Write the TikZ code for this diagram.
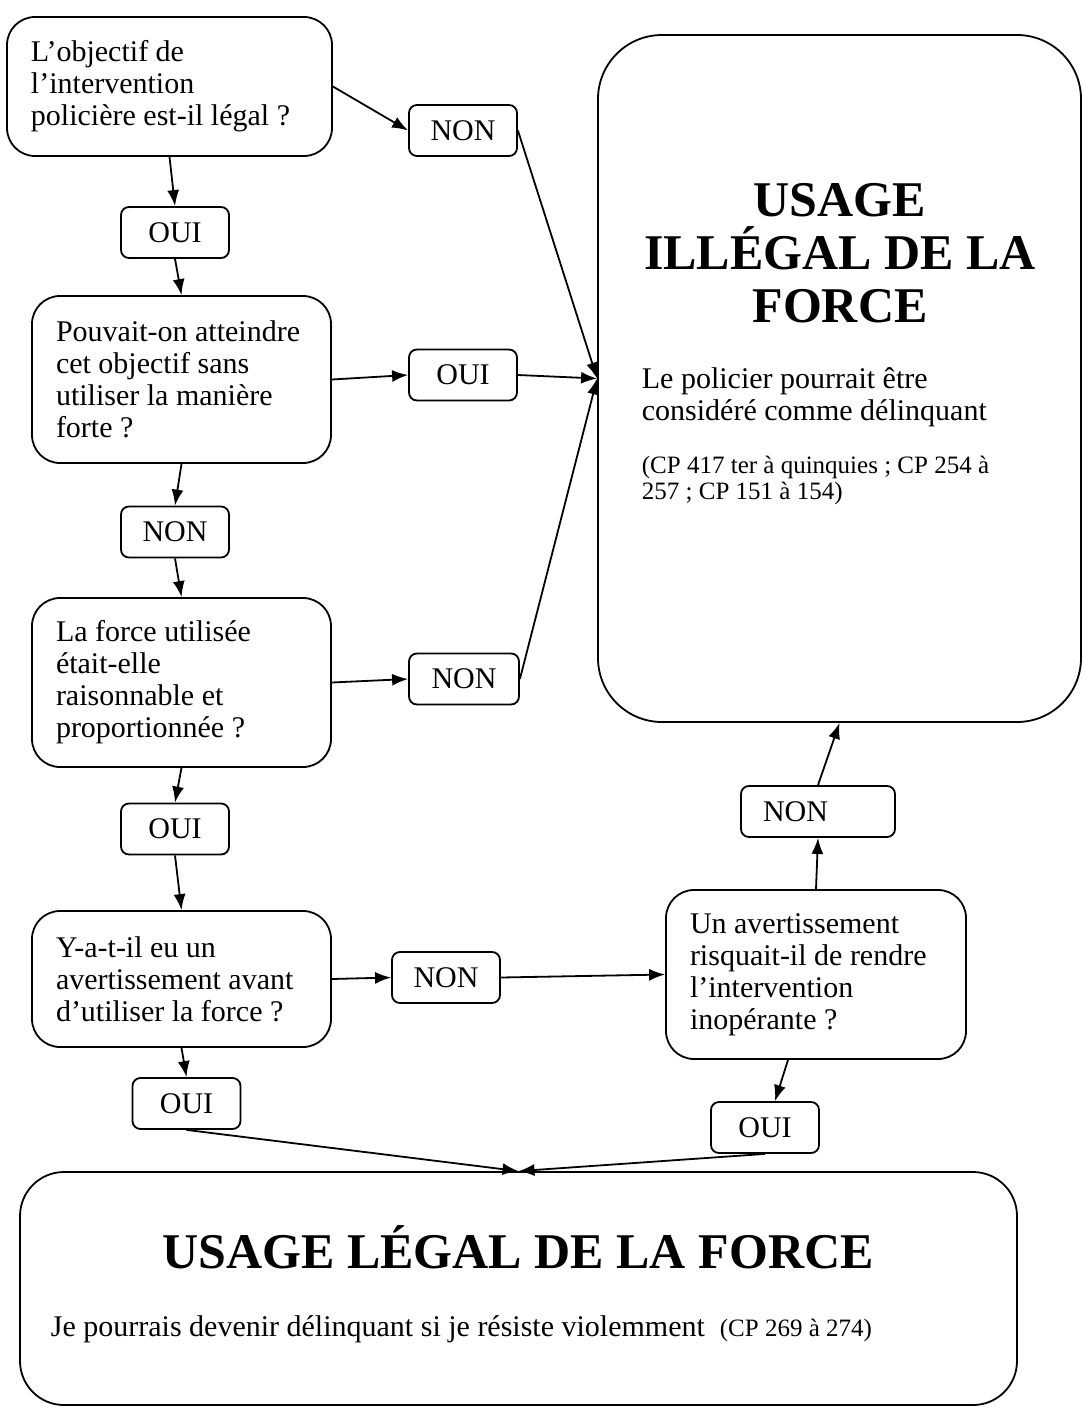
\documentclass[tikz,border=0pt]{standalone}
\usepackage{fontspec}
\setmainfont{Liberation Serif}
\usetikzlibrary{arrows.meta}
\begin{document}
\begin{tikzpicture}[x=0.5pt, y=-0.5pt, line width=0.9pt, line join=round, >={Latex[length=8pt,width=6pt]},
		font=\fontsize{15}{16}\selectfont,
		question/.style={draw, rounded corners=14pt, align=flush left, inner xsep=12pt, text width=#1},
		answer/.style={draw, rounded corners=4pt, minimum width=54pt, minimum height=25.5pt, inner sep=0pt},
		verdict/.style={draw, rounded corners=#1, inner sep=0pt},
		heading/.style={font=\fontsize{25}{26.5}\selectfont\bfseries, align=center, inner sep=0pt},
		note/.style={font=\fontsize{12.5}{13}\selectfont, align=flush left, inner sep=0pt}]
	\useasboundingbox (0,0) rectangle (1085,1408);
	\node[question=138.5pt, minimum height=69.5pt] (q1) at (169.5,86.5) {L’objectif de\\l’intervention\\policière est-il légal ?};
	\node[question=125.5pt, minimum height=83.5pt] (q2) at (181.5,379.5) {Pouvait-on atteindre\\cet objectif sans\\utiliser la manière\\forte ?};
	\node[question=125.5pt, minimum height=84.5pt] (q3) at (181.5,682.5) {La force utilisée\\était-elle\\raisonnable et\\proportionnée ?};
	\node[question=125.5pt, minimum height=68pt] (q4) at (181.5,979) {Y-a-t-il eu un\\avertissement avant\\d’utiliser la force ?};
	\node[question=126pt, minimum height=84.5pt] (q5) at (816,974.5) {Un avertissement\\risquait-il de rendre\\l’intervention\\inopérante ?};
	\node[answer] (non1) at (463,130.5) {NON};
	\node[answer] (oui1) at (175,232.5) {OUI};
	\node[answer] (oui2) at (463,375) {OUI};
	\node[answer] (non2) at (175,532) {NON};
	\node[answer, minimum width=55pt] (non3) at (464,679) {NON};
	\node[answer] (oui3) at (175,829) {OUI};
	\node[answer] (non4) at (446,977.5) {NON};
	\node[answer, minimum width=77pt, text width=55pt, align=flush left, inner xsep=11pt] (non5) at (818,811.5) {NON};
	\node[answer] (oui4) at (186.5,1103.5) {OUI};
	\node[answer] (oui5) at (765,1127.5) {OUI};
	\node[verdict=32pt, minimum width=241.5pt, minimum height=343.5pt] (ill) at (839.5,378.5) {};
	\node[heading] (illtitle) at (840,253) {USAGE\\ILLÉGAL DE LA\\FORCE};
	\node[anchor=north west, inner sep=0pt, align=flush left] (illtext) at (641,367) {Le policier pourrait être\\considéré comme délinquant};
	\node[note, anchor=north west] (illref) at (641,455) {(CP 417 ter à quinquies ; CP 254 à\\257 ; CP 151 à 154)};
	\node[verdict=22pt, minimum width=498.5pt, minimum height=116.5pt] (leg) at (518.5,1288.5) {};
	\node[heading, anchor=base] (legtitle) at (518,1268) {USAGE LÉGAL DE LA FORCE};
	\node[anchor=base west, inner sep=0pt] (legtext) at (50,1336) {Je pourrais devenir délinquant si je résiste violemment\ \ {\fontsize{12.5}{13}\selectfont(CP 269 à 274)}};
	\foreach \a/\b in {q1/oui1, oui1/q2, q2/non2, non2/q3, q3/oui3, oui3/q4, q4/oui4}
		\draw[->] (\a.south)--(\b.north);
	\foreach \a/\b in {q1/non1, q2/oui2, q3/non3, q4/non4, non4/q5}
		\draw[->] (\a.east)--(\b.west);
	\foreach \a in {non1, oui2, non3}
		\draw[->] (\a.east)--(ill.west);
	\draw[->] (q5.north)--(non5.south);
	\draw[->] (non5.north)--(ill.south);
	\draw[->] ([xshift=-14pt]q5.south)--([xshift=5pt]oui5.north);
	\foreach \a in {oui4, oui5}
		\draw[->] (\a.south)--(leg.north);
\end{tikzpicture}
\end{document}
